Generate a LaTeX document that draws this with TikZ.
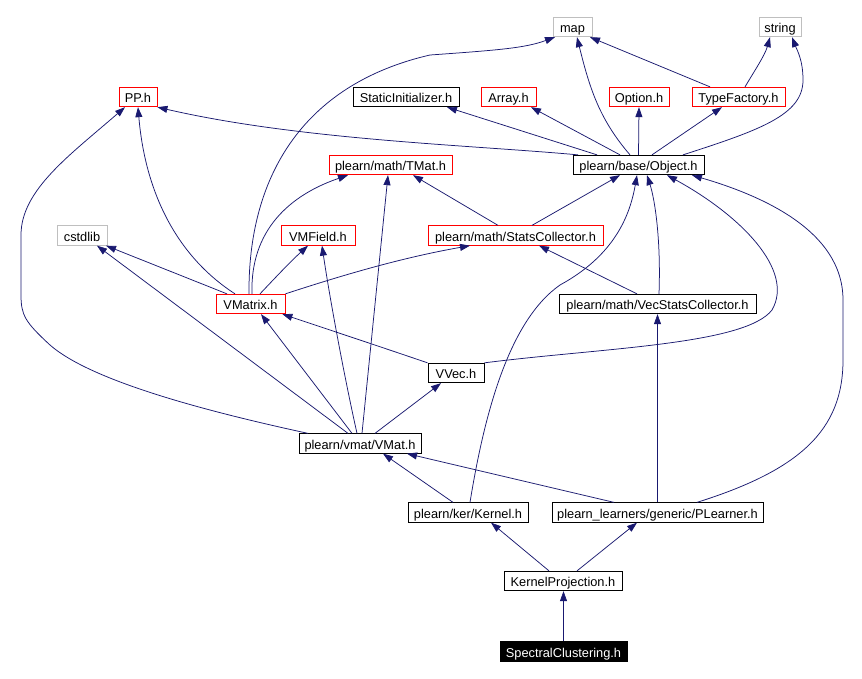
\documentclass[tikz,border=0pt]{standalone}
\usepackage{fontspec}
\setmainfont{Liberation Sans}
\usetikzlibrary{arrows.meta}
\definecolor{edgeblue}{HTML}{191970}
\definecolor{boxred}{HTML}{FF0000}
\definecolor{boxgray}{HTML}{BFBFBF}
\tikzset{
  box/.style={draw=black, line width=0.8pt, inner sep=0pt, minimum height=19.5pt,
    text height=11.5pt, text depth=0pt,
    font=\fontsize{12.8}{14}\selectfont, text=black, fill=white},
  redbox/.style={box, draw=boxred},
  graybox/.style={box, draw=boxgray},
  blackbox/.style={box, draw=black},
  rootbox/.style={box, draw=black, fill=black, text=white},
  dep/.style={draw=edgeblue, line width=0.75pt, -{Triangle[length=10pt,width=7pt]}}
}
\begin{document}
\begin{tikzpicture}[x=1pt,y=-1pt]
\fill[white] (0,0) rectangle (862,678);
\path[use as bounding box] (0,0) rectangle (862,678);

% nodes
\node[graybox, minimum width=39pt] (map) at (572.5,27) {map};
\node[graybox, minimum width=42pt] (string) at (780,27) {string};
\node[redbox, minimum width=38pt] (pp) at (138,97) {PP.h};
\node[blackbox, minimum width=106pt] (si) at (406,97) {StaticInitializer.h};
\node[redbox, minimum width=55pt] (array) at (508.5,97) {Array.h};
\node[redbox, minimum width=60pt] (option) at (639,97) {Option.h};
\node[redbox, minimum width=93pt] (tf) at (738.5,97) {TypeFactory.h};
\node[redbox, minimum width=123pt] (tmat) at (390.5,165) {plearn/math/TMat.h};
\node[blackbox, minimum width=131pt] (obj) at (638.5,165) {plearn/base/Object.h};
\node[graybox, minimum width=50pt] (cstdlib) at (82,235.5) {cstdlib};
\node[redbox, minimum width=74pt] (vmfield) at (318,235.5) {VMField.h};
\node[redbox, minimum width=175pt] (stc) at (515.5,235.5) {plearn/math/StatsCollector.h};
\node[redbox, minimum width=69pt] (vmatrix) at (250.5,304) {VMatrix.h};
\node[blackbox, minimum width=197pt] (vsc) at (657.5,304) {plearn/math/VecStatsCollector.h};
\node[blackbox, minimum width=56pt] (vvec) at (456,373) {VVec.h};
\node[blackbox, minimum width=122pt] (vmat) at (360,443.5) {plearn/vmat/VMat.h};
\node[blackbox, minimum width=120pt] (ker) at (468,512.5) {plearn/ker/Kernel.h};
\node[blackbox, minimum width=211pt] (pl) at (657.5,512.5) {plearn\_learners/generic/PLearner.h};
\node[blackbox, minimum width=118pt] (kp) at (563,581) {KernelProjection.h};
\node[rootbox, minimum width=127pt] (sc) at (563.5,651.5) {SpectralClustering.h};

% edges
\draw[dep] (sc.north) -- (sc.north |- kp.south);
\draw[dep] ([xshift=-14pt]kp.north) -- ([xshift=23pt]ker.south);
\draw[dep] ([xshift=14pt]kp.north) -- ([xshift=-20.5pt]pl.south);
\draw[dep] ([xshift=-15pt]ker.north) -- ([xshift=23pt]vmat.south);
\draw[dep] ([xshift=2pt]ker.north) .. controls (485,410) and (510,320) .. (560,285)
   .. controls (615,255) and (630,215) .. ([xshift=-1.5pt]obj.south);
\draw[dep] ([xshift=-43.5pt]pl.north) -- ([xshift=47pt]vmat.south);
\draw[dep] (pl.north) -- (vsc.south);
\draw[dep] ([xshift=39.5pt]pl.north) .. controls (800,470) and (843,430) .. (843,360)
   -- (843,300) .. controls (843,230) and (760,195) .. ([xshift=53.5pt]obj.south);
\draw[dep] ([xshift=-52pt]vmat.north) .. controls (200,410) and (90,380) .. (50,345)
   .. controls (25,322) and (21,315) .. (21,295) -- (21,235)
   .. controls (21,190) and (70,155) .. ([xshift=-13pt]pp.south);
\draw[dep] ([xshift=-12pt]vmat.north) -- ([xshift=15pt]cstdlib.south);
\draw[dep] ([xshift=-8pt]vmat.north) -- ([xshift=10.5pt]vmatrix.south);
\draw[dep] ([xshift=-3pt]vmat.north) .. controls (345,380) and (330,300) .. ([xshift=4pt]vmfield.south);
\draw[dep] ([xshift=2pt]vmat.north) -- ([xshift=-2.5pt]tmat.south);
\draw[dep] ([xshift=15pt]vmat.north) -- ([xshift=-15pt]vvec.south);
\draw[dep] (vvec.north west) .. controls (390,350) and (330,330) .. ([xshift=-3pt]vmatrix.south east);
\draw[dep] (vvec.north east) .. controls (600,348) and (745,345) .. (772,310)
   .. controls (795,270) and (740,215) .. ([xshift=28.5pt]obj.south);
\draw[dep] ([xshift=-20.5pt]vsc.north) -- ([xshift=23.5pt]stc.south);
\draw[dep] ([xshift=1.5pt]vsc.north) .. controls (661,240) and (655,200) .. ([xshift=8.5pt]obj.south);
\draw[dep] ([xshift=-15.5pt]vmatrix.north) .. controls (175,255) and (145,190) .. (pp.south);
\draw[dep] ([xshift=-23.5pt]vmatrix.north) -- ([xshift=24pt]cstdlib.south);
\draw[dep] ([xshift=9.5pt]vmatrix.north) .. controls (275,278) and (290,262) .. ([xshift=-10pt]vmfield.south);
\draw[dep] ([xshift=1.5pt]vmatrix.north) .. controls (250,230) and (290,195) .. ([xshift=-42.5pt]tmat.south);
\draw[dep] (vmatrix.north east) .. controls (340,276) and (400,258) .. ([xshift=-45.5pt]stc.south);
\draw[dep] ([xshift=-1.5pt]vmatrix.north) .. controls (248,180) and (300,85) .. (430,55)
   .. controls (500,50) and (525,48) .. ([xshift=-17.5pt]map.south);
\draw[dep] ([xshift=-17.5pt]stc.north) -- ([xshift=22.5pt]tmat.south);
\draw[dep] ([xshift=16.5pt]stc.north) -- ([xshift=-18.5pt]obj.south);
\draw[dep] ([xshift=-60.5pt]obj.north) .. controls (470,145) and (300,140) .. (pp.south east);
\draw[dep] ([xshift=-41.5pt]obj.north) -- ([xshift=41pt]si.south);
\draw[dep] ([xshift=-18.5pt]obj.north) -- ([xshift=22.5pt]array.south);
\draw[dep] (obj.north) -- (option.south);
\draw[dep] ([xshift=13.5pt]obj.north) -- ([xshift=-16.5pt]tf.south);
\draw[dep] ([xshift=-8.5pt]obj.north) .. controls (600,120) and (590,90) .. ([xshift=4.5pt]map.south);
\draw[dep] ([xshift=44.5pt]obj.north) .. controls (760,130) and (803,115) .. (803,80)
   .. controls (803,60) and (797,50) .. ([xshift=12pt]string.south);
\draw[dep] ([xshift=-28.5pt]tf.north) -- ([xshift=17.5pt]map.south);
\draw[dep] ([xshift=6.5pt]tf.north) .. controls (755,70) and (765,55) .. ([xshift=-10pt]string.south);
\end{tikzpicture}
\end{document}
